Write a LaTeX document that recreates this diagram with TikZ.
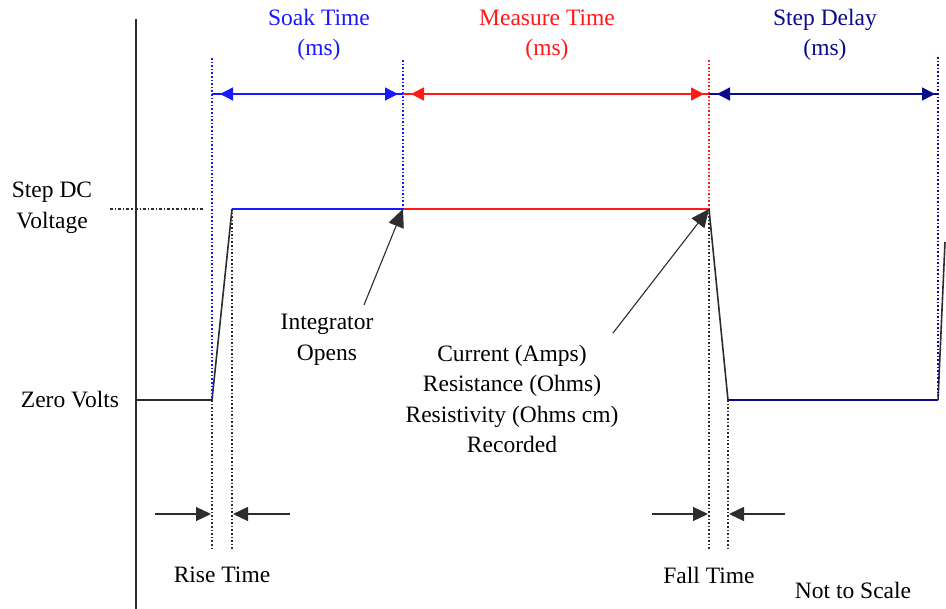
\documentclass[tikz,border=0pt]{standalone}
\usepackage{fontspec}
\setmainfont{Liberation Serif}
\usetikzlibrary{arrows.meta}
\definecolor{sblue}{RGB}{25,25,255}
\definecolor{sred}{RGB}{255,25,25}
\definecolor{snavy}{RGB}{10,10,140}
\definecolor{sgray}{RGB}{45,45,45}
\begin{document}
\begin{tikzpicture}[x=1pt,y=-1pt,
  lbl/.style={font=\fontsize{23.5}{30.5}\selectfont, inner sep=0pt, align=center},
  wave/.style={line width=1.6pt},
  dotln/.style={line width=1.3pt, dash pattern=on 1.6pt off 2pt},
  dimtip/.style={{Triangle[length=13pt 0 0,width=13pt 0 0]}-{Triangle[length=13pt 0 0,width=13pt 0 0]}, line width=1.5pt},
  calltip/.style={-{Triangle[length=18pt 0 0,width=16pt 0 0]}, line width=1.1pt, sgray},
  gaptip/.style={-{Triangle[length=15pt 0 0,width=14pt 0 0]}, line width=1.3pt, sgray}
]
\useasboundingbox (0,0) rectangle (946,609);
\fill[white] (0,0) rectangle (946,609);

% key coordinates
\coordinate (axT) at (136,19);
\coordinate (axB) at (136,609);
\coordinate (z0) at (136,400);
\coordinate (r0) at (212,400);
\coordinate (r1) at (232,209);
\coordinate (io) at (403,209);
\coordinate (ft) at (709,209);
\coordinate (fb) at (728,400);
\coordinate (nr) at (938,400);
\coordinate (nrT) at (945,242);

% vertical axis
\draw[sgray, line width=2pt] (axT) -- (axB);

% step DC reference line
\coordinate (dcA) at (110,209);
\coordinate (dcB) at (204,209);
\draw[sgray, line width=1.2pt, dash pattern=on 3pt off 2pt on 1.2pt off 2pt] (dcA) -- (dcB);

% waveform
\draw[sgray, wave] (z0) -- (r0) -- (r1);
\draw[sblue, wave] (r1) -- (io);
\draw[sred, wave] (io) -- (ft);
\draw[sgray, wave] (ft) -- (fb);
\draw[snavy, wave] (fb) -- (nr);
\draw[sgray, wave] (nr) -- (nrT);

% dotted guide lines
\coordinate (g1T) at (212,58);
\coordinate (g1B) at (212,550);
\coordinate (g2B) at (232,550);
\coordinate (g3T) at (403,60);
\coordinate (g4T) at (709,60);
\coordinate (g4B) at (709,550);
\coordinate (g5B) at (728,550);
\coordinate (g6T) at (938,57);
\coordinate (g6B) at (938,396);
\draw[sblue, dotln] (g1T) -- (r0);
\draw[sgray, dotln] (r0) -- (g1B);
\draw[sgray, dotln] (r1) -- (g2B);
\draw[sblue, dotln] (g3T) -- (io);
\draw[sred, dotln] (g4T) -- (ft);
\draw[sgray, dotln] (ft) -- (g4B);
\draw[sgray, dotln] (fb) -- (g5B);
\draw[snavy, dotln] (g6T) -- (g6B);

% top dimension arrows
\coordinate (a1) at (212,94);
\coordinate (a2) at (403,94);
\coordinate (a3) at (709,94);
\coordinate (a4) at (938,94);
\draw[sblue, line width=1.5pt] (a1) -- (a2);
\draw[sblue, dimtip, shorten <=8pt, shorten >=5pt] (a1) -- (a2);
\draw[sred, line width=1.5pt] (a2) -- (a3);
\draw[sred, dimtip, shorten <=8pt, shorten >=5pt] (a2) -- (a3);
\draw[snavy, line width=1.5pt] (a3) -- (a4);
\draw[snavy, dimtip, shorten <=8pt, shorten >=3pt] (a3) -- (a4);

% top labels
\node[lbl, text=sblue] (soak) at (319,35) {Soak Time\\(ms)};
\node[lbl, text=sred] (meas) at (547,35) {Measure Time\\(ms)};
\node[lbl, text=snavy] (sdel) at (825,35) {Step Delay\\(ms)};

% left labels
\node[lbl] (stepdc) at (52,208) {Step DC\\Voltage};
\node[lbl] (zero) at (70,400) {Zero Volts};

% callouts
\node[lbl] (integ) at (327,340) {Integrator\\Opens};
\coordinate (ia) at (364,305);
\draw[calltip] (ia) -- (io);
\node[lbl] (curr) at (512,399) {Current (Amps)\\Resistance (Ohms)\\Resistivity (Ohms cm)\\Recorded};
\coordinate (ca) at (613,333);
\draw[calltip] (ca) -- (ft);

% rise / fall time gap arrows
\coordinate (rl) at (155,514);
\coordinate (rlt) at (211,514);
\coordinate (rr) at (290,514);
\coordinate (rrt) at (233,514);
\draw[gaptip] (rl) -- (rlt);
\draw[gaptip] (rr) -- (rrt);
\coordinate (fl) at (652,514);
\coordinate (flt) at (708,514);
\coordinate (fr) at (785,514);
\coordinate (frt) at (729,514);
\draw[gaptip] (fl) -- (flt);
\draw[gaptip] (fr) -- (frt);

\node[lbl] (rise) at (222,575) {Rise Time};
\node[lbl] (fall) at (709,575) {Fall Time};
\node[lbl] (nts) at (853,590) {Not to Scale};
\end{tikzpicture}
\end{document}
